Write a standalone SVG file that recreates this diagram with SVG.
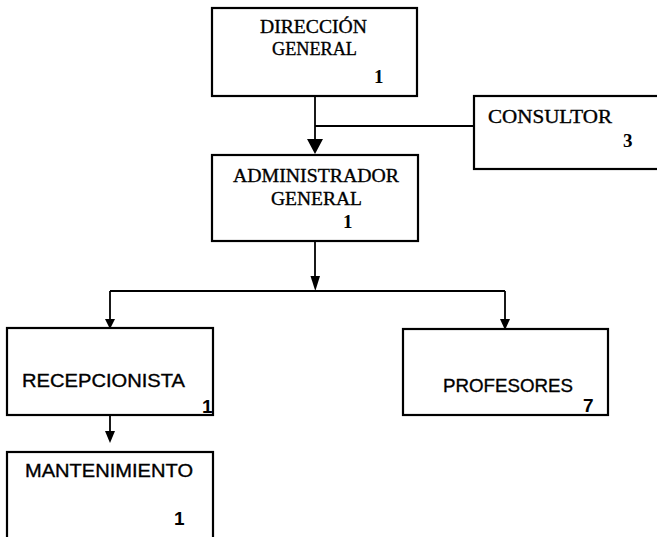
<svg xmlns="http://www.w3.org/2000/svg" width="657" height="537" viewBox="0 0 657 537">
  <style>
    .box { fill: #ffffff; stroke: #000000; stroke-width: 2.2; }
    .serif { font-family: "Liberation Serif", "Times New Roman", serif; font-size: 19px; fill: #000; stroke: #000; stroke-width: 0.35; }
    .sans { font-family: "Liberation Sans", Arial, sans-serif; font-size: 19px; fill: #000; stroke: #000; stroke-width: 0.35; }
    .num { font-weight: bold; stroke-width: 0; }
    .link { stroke: #000000; stroke-width: 1.8; fill: none; }
    .head { fill: #000000; }
  </style>
  <rect width="657" height="537" fill="#ffffff"/>

  <g id="connectors">
    <line class="link" x1="315" y1="96" x2="315" y2="141"/>
    <polygon class="head" points="307,139 323,139 315,154"/>
    <line class="link" x1="315" y1="126" x2="474" y2="126"/>
    <line class="link" x1="315" y1="241" x2="315" y2="278"/>
    <polygon class="head" points="310.5,276 320,276 315.3,291"/>
    <line class="link" x1="110" y1="291" x2="505" y2="291"/>
    <line class="link" x1="110" y1="291" x2="110" y2="321"/>
    <polygon class="head" points="105,319 115,319 110,329"/>
    <line class="link" x1="505" y1="291" x2="505" y2="321"/>
    <polygon class="head" points="500,319 510,319 505,330"/>
    <line class="link" x1="110" y1="415" x2="110" y2="433"/>
    <polygon class="head" points="105,431 115,431 110,443"/>
  </g>

  <g id="direccion-general">
    <rect class="box" x="212" y="8" width="205" height="88"/>
    <text class="serif" x="260" y="33" textLength="107" lengthAdjust="spacingAndGlyphs">DIRECCIÓN</text>
    <text class="serif" x="272" y="55" textLength="85" lengthAdjust="spacingAndGlyphs">GENERAL</text>
    <text class="serif num" x="374" y="83">1</text>
  </g>

  <g id="consultor">
    <rect class="box" x="474" y="96" width="200" height="73"/>
    <text class="serif" x="488" y="123" textLength="124" lengthAdjust="spacingAndGlyphs">CONSULTOR</text>
    <text class="serif num" x="623" y="147">3</text>
  </g>

  <g id="administrador-general">
    <rect class="box" x="212" y="155" width="206" height="86"/>
    <text class="serif" x="233" y="182" textLength="166" lengthAdjust="spacingAndGlyphs">ADMINISTRADOR</text>
    <text class="serif" x="271" y="205" textLength="91" lengthAdjust="spacingAndGlyphs">GENERAL</text>
    <text class="serif num" x="343" y="228">1</text>
  </g>

  <g id="recepcionista">
    <rect class="box" x="7" y="328" width="206" height="87"/>
    <text class="sans" x="22" y="387" textLength="163" lengthAdjust="spacingAndGlyphs">RECEPCIONISTA</text>
    <text class="sans num" x="202" y="413">1</text>
  </g>

  <g id="profesores">
    <rect class="box" x="403" y="329" width="205" height="86"/>
    <text class="sans" x="443" y="392" textLength="130" lengthAdjust="spacingAndGlyphs">PROFESORES</text>
    <text class="sans num" x="583" y="412">7</text>
  </g>

  <g id="mantenimiento">
    <rect class="box" x="7" y="452" width="206" height="100"/>
    <text class="sans" x="25" y="477" textLength="168" lengthAdjust="spacingAndGlyphs">MANTENIMIENTO</text>
    <text class="sans num" x="174" y="525">1</text>
  </g>
</svg>
